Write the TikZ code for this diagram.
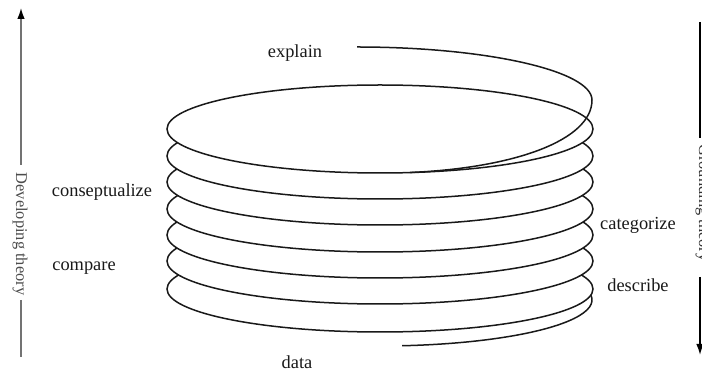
\documentclass[tikz,border=0pt]{standalone}
\usepackage{fontspec}
\setmainfont{Liberation Serif}
\usetikzlibrary{arrows.meta}
\begin{document}
\begin{tikzpicture}[x=0.5pt,y=-0.5pt,
  coil/.style={draw=black!90, line width=0.75pt},
  lbl/.style={font=\fontsize{9.2}{10}\selectfont, text=black!90, inner sep=0pt},
  sidelbl/.style={font=\fontsize{8.2}{10}\selectfont, text=black!70, inner sep=0pt, rotate=-90},
  upaxis/.style={draw=black!55, line width=0.8pt},
  downaxis/.style={draw=black, line width=0.8pt},
  tip/.style={-{Latex[length=5.5pt,width=3.8pt,black]}}]
\useasboundingbox (0,0) rectangle (702,373);

% loose end of the spiral at the bottom
\draw[coil] (588.8,292) arc[start angle=-10, end angle=84, x radius=212, y radius=46];

% stacked turns, drawn from the bottom up so each hides the back of the one below
\foreach \cy in {289,261,235,209,182,156}
  \filldraw[coil, fill=white] (380,\cy) ellipse [x radius=213, y radius=43];
\filldraw[coil, fill=white] (380,129) ellipse [x radius=213, y radius=44];

% loose end of the spiral at the top
\draw[coil] (357,47) .. controls (487,47) and (592,71) .. (592,100)
            .. controls (592,140) and (515,168) .. (410,172.5);

% stage labels
\node[lbl] (explain) at (295,53) {explain};
\node[lbl] (concept) at (102,192) {conseptualize};
\node[lbl] (compare) at (84,268) {compare};
\node[lbl] (categ) at (638,225) {categorize};
\node[lbl] (descr) at (638,285) {describe};
\node[lbl] (data) at (297,362) {data};

% left axis: developing theory, pointing up
\coordinate (ltip) at (21,8);
\coordinate (lmid) at (21,165);
\coordinate (llow) at (21,300);
\coordinate (lend) at (21,357);
\node[sidelbl] (develop) at (20,234) {Developing theory};
\draw[upaxis, tip] (lmid) -- (ltip);
\draw[upaxis] (llow) -- (lend);

% right axis: grounding theory, pointing down
\coordinate (rtop) at (700,22);
\coordinate (rmid) at (700,138);
\coordinate (rlow) at (700,277);
\coordinate (rtip) at (700,355);
\node[sidelbl, text=black!80] (ground) at (703,203) {Grounding theory};
\draw[downaxis] (rtop) -- (rmid);
\draw[downaxis, tip] (rlow) -- (rtip);
\end{tikzpicture}
\end{document}
